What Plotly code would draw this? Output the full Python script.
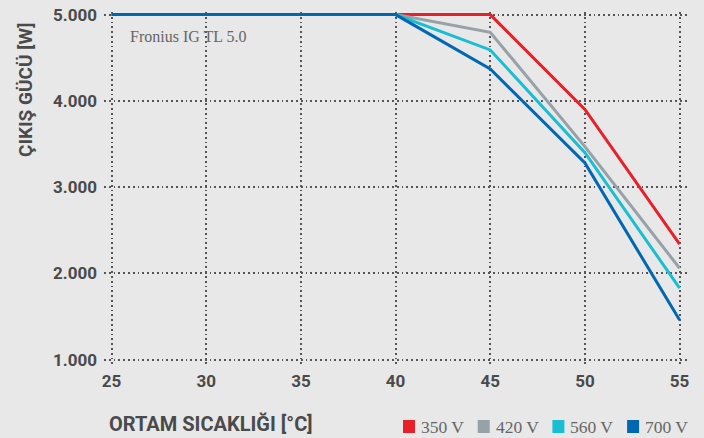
import plotly.graph_objects as go

# Ambient temperature (°C) and output power (W) per DC voltage
temps = [25, 30, 35, 40, 45, 50, 55]
p_350 = [5000, 5000, 5000, 5000, 5000, 3900, 2340]
p_420 = [5000, 5000, 5000, 5000, 4795, 3470, 2060]
p_560 = [5000, 5000, 5000, 5000, 4590, 3400, 1830]
p_700 = [5000, 5000, 5000, 5000, 4370, 3280, 1460]

names = ["350 V", "420 V", "560 V", "700 V"]
colors = ["#E8202A", "#97A1A8", "#1ABED3", "#0068B3"]
y_ticks = [1000, 2000, 3000, 4000, 5000]
y_tick_text = ["1.000", "2.000", "3.000", "4.000", "5.000"]
x_ticks = [25, 30, 35, 40, 45, 50, 55]

BG = "#E7E8E7"
TXT = "#4A4A4A"
W, H = 704, 438
L, R, T, B = 104, 14, 12, 71
pw, ph = W - L - R, H - T - B


def px_x(p):
    return (p - L) / pw


def px_y(q):
    return (H - B - q) / ph


fig = go.Figure()
for name, col, vals in zip(names, colors, [p_350, p_420, p_560, p_700]):
    fig.add_trace(go.Scatter(x=temps, y=vals, mode="lines", name=name,
                             line=dict(color=col, width=3), showlegend=False))

grid = dict(showgrid=True, gridcolor="#555555", gridwidth=1.5,
            griddash="1.8px,3px", zeroline=False, showline=False,
            automargin=False,
            tickfont=dict(family="Roboto", size=17, color=TXT, weight="bold"))

fig.update_xaxes(range=[24.6, 55.55], tickvals=x_ticks, ticklabelstandoff=2, **grid)
fig.update_yaxes(range=[915, 5030], tickvals=y_ticks, ticktext=y_tick_text,
                 ticklabelstandoff=6, **grid)

# texts
fig.add_annotation(text="Fronius IG TL 5.0", xref="paper", yref="paper",
                   x=px_x(128), y=px_y(36), xanchor="left", yanchor="middle",
                   showarrow=False,
                   font=dict(family="Liberation Serif", size=16, color="#666666"))
fig.add_annotation(text="<b>ÇIKIŞ GÜCÜ [W]</b>", xref="paper", yref="paper",
                   x=px_x(25), y=px_y(90), textangle=-90, showarrow=False,
                   xanchor="center", yanchor="middle",
                   font=dict(family="Roboto", size=19, color=TXT))
fig.add_annotation(text="<b>ORTAM SICAKLIĞI [°C]</b>", xref="paper", yref="paper",
                   x=px_x(107), y=px_y(424), xanchor="left", yanchor="middle",
                   showarrow=False, font=dict(family="Roboto", size=20, color=TXT))

# legend built by hand (square swatches)
for i, (name, col) in enumerate(zip(names, colors)):
    left = 403 + i * 74.7
    fig.add_shape(type="rect", xref="paper", yref="paper",
                  xsizemode="pixel", ysizemode="pixel",
                  xanchor=px_x(left + 6), yanchor=px_y(426.5),
                  x0=-6, x1=6, y0=-6.5, y1=6.5,
                  fillcolor=col, line=dict(width=0))
    fig.add_annotation(text=name, xref="paper", yref="paper",
                       x=px_x(left + 16), y=px_y(426.5), xanchor="left",
                       yanchor="middle", showarrow=False,
                       font=dict(family="Liberation Serif", size=17.5, color="#666666"))

fig.update_layout(width=W, height=H, margin=dict(l=L, r=R, t=T, b=B),
                  paper_bgcolor=BG, plot_bgcolor=BG, showlegend=False)

fig.write_html("out.html", config={"displayModeBar": False},
               post_script="document.body.style.margin='0';")
